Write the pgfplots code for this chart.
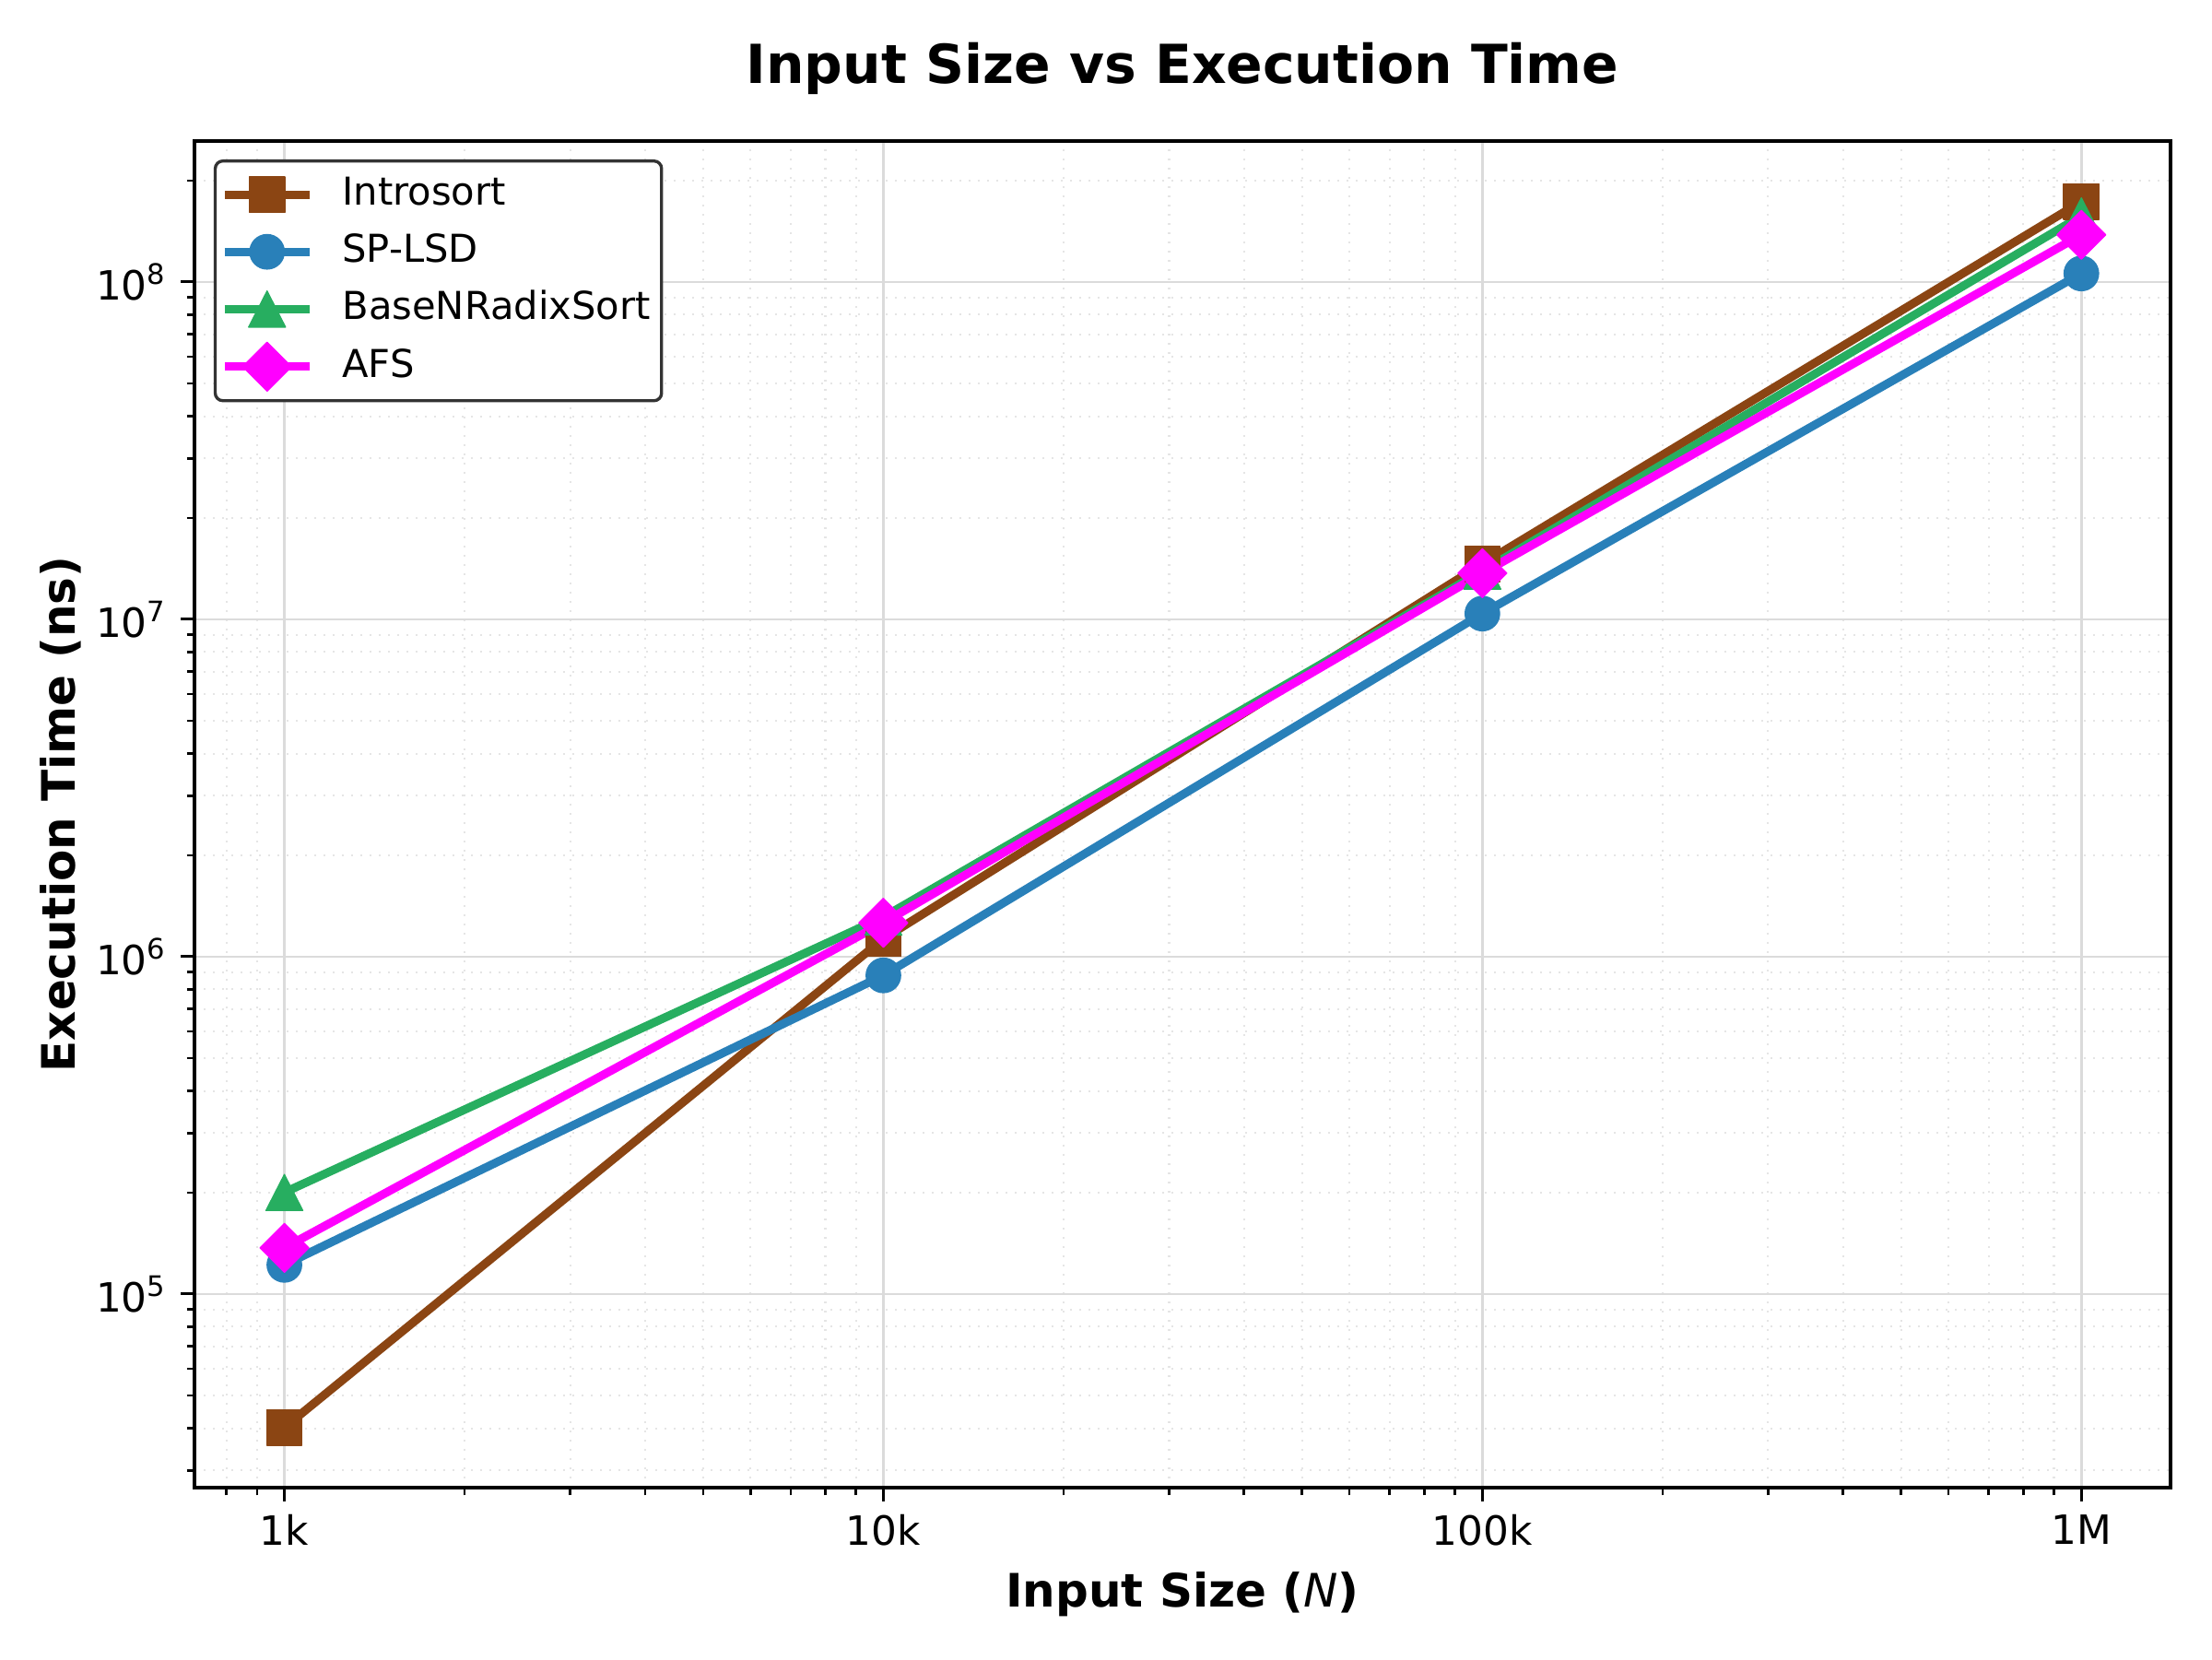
\documentclass[border=0pt]{standalone}
\usepackage{fontspec}
\setmainfont{DejaVu Sans}
\usepackage{pgfplots}
\pgfplotsset{compat=1.18}
\definecolor{cIntro}{HTML}{8B4513}
\definecolor{cSP}{HTML}{2980B9}
\definecolor{cBase}{HTML}{27AE60}
\definecolor{cAFS}{HTML}{FF00FF}
\begin{document}
\begin{tikzpicture}
\begin{axis}[
  scale only axis, width=514.56pt, height=350.64pt,
  xmode=log, ymode=log,
  xmin=707.9, xmax=1409000, ymin=26670, ymax=2.618e8,
  xtick={1000,10000,100000,1000000},
  xticklabels={1k,10k,100k,1M},
  ytick={100000,1000000,10000000,100000000},
  yticklabels={10\textsuperscript{5},10\textsuperscript{6},10\textsuperscript{7},10\textsuperscript{8}},
  minor xtick={800,900,2000,3000,4000,5000,6000,7000,8000,9000,20000,30000,40000,50000,60000,70000,80000,90000,200000,300000,400000,500000,600000,700000,800000,900000},
  minor ytick={30000,40000,50000,60000,70000,80000,90000,200000,300000,400000,500000,600000,700000,800000,900000,2000000,3000000,4000000,5000000,6000000,7000000,8000000,9000000,20000000,30000000,40000000,50000000,60000000,70000000,80000000,90000000,200000000},
  tick pos=left, tick align=outside,
  major tick length=3.6pt, minor tick length=2pt,
  every major tick/.append style={black, line width=0.7pt},
  every minor tick/.append style={black, line width=0.6pt},
  axis line style={line width=0.8pt, black},
  grid=both,
  major grid style={solid, line width=0.6pt, color=black!14},
  minor grid style={dotted, line width=0.5pt, color=black!10},
  ticklabel style={font=\fontsize{10.5}{12}\selectfont},
  title={Input Size vs Execution Time},
  title style={font=\fontsize{14}{17}\selectfont\bfseries, at={([yshift=9.1pt]axis description cs:0.5,1)}, anchor=base},
  xlabel={Input Size ({\mdseries\itshape N})},
  xlabel style={font=\fontsize{12}{14}\selectfont\bfseries, at={([yshift=-31pt]axis description cs:0.5,0)}, anchor=base},
  ylabel={Execution Time (ns)},
  ylabel style={font=\fontsize{12}{14}\selectfont\bfseries, at={([xshift=-31pt]axis description cs:0,0.5)}, anchor=base, rotate=0},
  legend image code/.code={\draw[mark repeat=2,mark phase=2] plot coordinates {(0pt,0pt)(11pt,0pt)(22pt,0pt)};},
  legend cell align=left,
  legend style={at={([xshift=5pt,yshift=-4.8pt]axis description cs:0,1)}, anchor=north west,
    draw=black!80, line width=0.8pt, rounded corners=2pt, fill=white,
    font=\fontsize{10}{12}\selectfont, inner xsep=1.4pt, inner ysep=2.5pt, row sep=2.4pt,
    nodes={inner sep=1.5pt, text height=7.5pt, text depth=2pt},
    /tikz/every odd column/.append style={column sep=6pt}},
  every axis plot/.append style={line width=2.2pt, line join=round},
]
\addplot[color=cIntro, mark=square*, mark size=4.6pt, mark options={solid, line width=0.3pt, sharp corners}]
  coordinates {(1000,40200) (10000,1130000) (100000,14600000) (1000000,173000000)};
\addlegendentry{Introsort}
\addplot[color=cSP, mark=*, mark size=4.5pt, mark options={solid, line width=0.3pt, sharp corners}]
  coordinates {(1000,122000) (10000,880000) (100000,10400000) (1000000,106000000)};
\addlegendentry{SP-LSD}
\addplot[color=cBase, mark=triangle*, mark size=5.55pt, mark options={solid, line width=0.3pt, sharp corners, yshift=-1.57pt, yscale=1.13}]
  coordinates {(1000,200000) (10000,1310000) (100000,13900000) (1000000,157000000)};
\addlegendentry{BaseNRadixSort}
\addplot[color=cAFS, mark=square*, mark size=4.5pt, mark options={solid, line width=0.3pt, sharp corners, rotate=45}]
  coordinates {(1000,137000) (10000,1260000) (100000,13700000) (1000000,138000000)};
\addlegendentry{AFS}
\end{axis}
\pgfresetboundingbox
\path ([shift={(-50.64pt,-44.64pt)}]current axis.south west) rectangle ([shift={(10.8pt,36.72pt)}]current axis.north east);
\end{tikzpicture}
\end{document}
